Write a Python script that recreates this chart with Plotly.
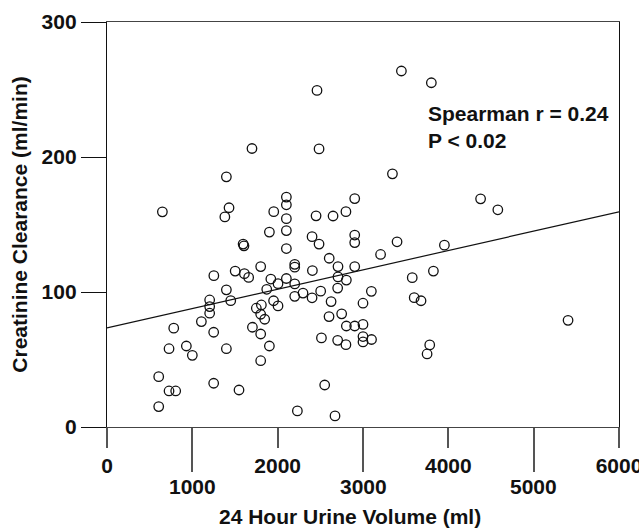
import plotly.graph_objects as go

# 24 hour urine volume (ml) and creatinine clearance (ml/min)
urine_volume = [3450, 3801, 2461, 1699, 2485, 3345, 1399, 4378, 2903, 2102, 4580, 649, 1430, 2102, 2649, 2800, 1954, 2450, 1381, 2102,
                1903, 2102, 2403, 2903, 2903, 3399, 3954, 2485, 1595, 1605, 2102,
                3206, 2604, 2200, 2200, 2707, 2903, 2407, 3825, 1801, 1502, 1610, 1252, 1660, 1920, 2102, 2004, 2200, 2707, 2805,
                3577, 1399, 1872, 2703, 3098, 2504,
                2297, 2200, 2403, 3600, 3680, 1203, 1450, 1952, 2626, 3000, 1203, 2004, 1809, 1750, 1203, 1801, 2602, 2750, 1848,
                1106, 5403, 2805, 2903, 3000, 782, 1704, 1250, 1801, 2513, 3000, 3000, 3100, 2703, 2800, 3782, 3751, 727, 930,
                1000, 1399, 1903, 1801, 606, 727, 805, 1250, 1547, 606, 2551, 2231, 2672]
creatinine_clearance = [263.7, 255, 249.3, 206.3, 206, 187.5, 185.3, 169, 169.2, 170.3, 160.9, 159.4, 162.4, 164.6, 156.3, 159.5,
                        159.5, 156.4, 155.6, 154.3, 144.4, 145.5, 141, 142.2, 136.6, 137.2, 134.7, 135.5, 135.5, 134.2, 132.2,
                        127.8, 125, 120.5, 118.4, 118.8, 118.8, 115.9, 115.5, 118.8, 115.5, 113.6, 112.1, 110.8, 109.6, 110,
                        106.2, 106, 111.2, 108.8, 110.6, 101.6, 102, 102.9, 100.5, 100.6,
                        99.2, 96.8, 95.7, 95.8, 93.5, 94.1, 93.6, 93.5, 92.9, 91.7, 89.2, 89.7, 90.4, 88, 84.3, 83.5, 81.8,
                        83.8, 79.8, 78.1, 79, 74.8, 74.8, 76, 73.2, 73.9, 70.2, 68.9, 66, 67, 63, 64.8, 64.2, 61, 60.8, 54.1,
                        58, 60, 53.1, 58, 60, 49.1, 37.3, 26.7, 26.7, 32.4, 27.4, 15.1, 31.1, 11.9, 8.2]

# regression line
fit_x = [0, 6000]
fit_y = [73.4, 159.4]

x_ticks_upper = [0, 2000, 4000, 6000]
x_ticks_lower = [1000, 3000, 5000]
y_ticks = [0, 100, 200, 300]

FONT = "Liberation Sans, Arial, Helvetica, sans-serif"
INK = "#111111"
TICKC = "#555555"
TICK_FONT = dict(family=FONT, size=21, color=INK, weight="bold")
TITLE_FONT = dict(family=FONT, size=21, color=INK, weight="bold")

fig = go.Figure()
fig.add_trace(go.Scatter(x=fit_x, y=fit_y, mode="lines", line=dict(color=INK, width=1.2),
                         hoverinfo="skip", showlegend=False))
fig.add_trace(go.Scatter(x=urine_volume, y=creatinine_clearance, mode="markers",
                         marker=dict(symbol="circle-open", size=9.5, color=INK, line=dict(width=1.3, color=INK)),
                         showlegend=False))

fig.update_layout(
    width=639, height=528,
    margin=dict(l=107, r=20, t=22, b=101, autoexpand=False),
    paper_bgcolor="white", plot_bgcolor="white",
    font=dict(family=FONT, color=INK),
    xaxis=dict(range=[0, 6000], showgrid=False, zeroline=False, automargin=False,
               tickmode="array", tickvals=x_ticks_upper, ticks="outside", ticklen=20, tickcolor=TICKC, tickwidth=2,
               tickfont=TICK_FONT, ticklabeloverflow="allow",
               minor=dict(ticks="outside", dtick=2000, tick0=x_ticks_lower[0], ticklen=44, tickcolor=TICKC,
                          tickwidth=2, showgrid=False),
               showline=True, linecolor="#444444", linewidth=1.2, mirror=True),
    yaxis=dict(range=[0, 300], tickvals=y_ticks, showgrid=False, zeroline=False, ticks="outside", ticklen=25,
               automargin=False,
               tickcolor=INK, tickwidth=1.3, showline=True, linecolor=INK, linewidth=1.4, mirror=True,
               tickfont=TICK_FONT,
               title=dict(text="Creatinine Clearance (ml/min)", font=TITLE_FONT, standoff=8)),
)

# lower row of staggered x tick labels
for v in x_ticks_lower:
    fig.add_annotation(x=v, y=-0.148, xref="x", yref="paper", xanchor="center", yanchor="middle",
                       text=str(v), showarrow=False, font=TICK_FONT)

# x axis title (placed slightly left of centre, as in the original)
fig.add_annotation(x=0.4746, y=-0.222, xref="paper", yref="paper", xanchor="center", yanchor="middle",
                   text="24 Hour Urine Volume (ml)", showarrow=False, font=TITLE_FONT)

fig.add_annotation(x=3735, y=242, xref="x", yref="y", xanchor="left", yanchor="top", align="left",
                   text="Spearman r = 0.24<br>P &lt; 0.02", showarrow=False,
                   font=dict(family=FONT, size=21, color=INK, weight="bold"))

fig.write_html("out.html")
